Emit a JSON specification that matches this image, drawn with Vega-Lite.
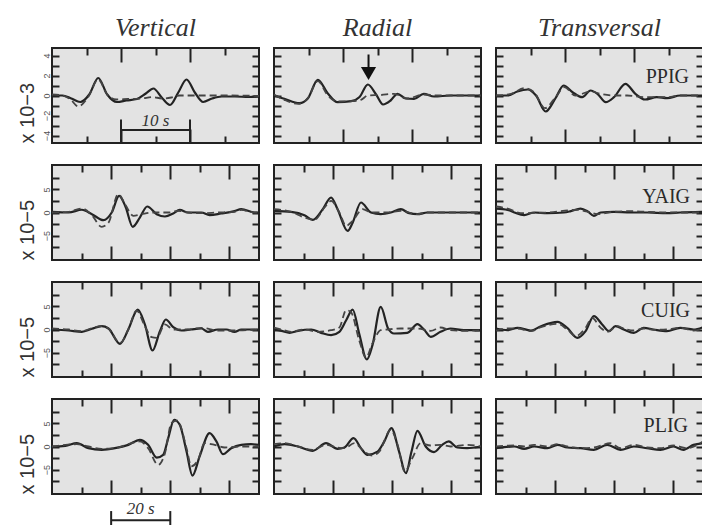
{
"$schema":"https://vega.github.io/schema/vega-lite/v6.json",
"padding":{"left":16,"top":14,"right":0,"bottom":0},
"background":"white",
"columns":3,
"align":"all",
"bounds":"flush",
"spacing":{"row":22,"column":15},
"config":{
 "view":{"fill":"#e3e3e3","stroke":"#222","strokeWidth":2},
 "axis":{"domain":false,"grid":false,"labels":false,"tickColor":"#222","tickWidth":2,"labelFont":"Liberation Sans","labelFontSize":9,"labelColor":"#555","titleFont":"Liberation Sans","titleFontSize":20,"titleFontWeight":"normal","titleColor":"#333","titleAnchor":"start","titlePadding":5},
 "title":{"font":"Liberation Serif","fontStyle":"italic","fontSize":26,"fontWeight":"normal","color":"#333","offset":6}
},
"datasets":{
"PV":[{"s":"o","t":0,"v":0},{"s":"o","t":1.5,"v":0},{"s":"o","t":2.8,"v":-0.3},{"s":"o","t":4.1,"v":-0.65},{"s":"o","t":5.4,"v":0.1},{"s":"o","t":6.7,"v":1.75},{"s":"o","t":8,"v":0.1},{"s":"o","t":9.4,"v":-0.65},{"s":"o","t":10.8,"v":-0.5},{"s":"o","t":12.3,"v":-0.35},{"s":"o","t":13.6,"v":0.2},{"s":"o","t":14.7,"v":0.7},{"s":"o","t":15.9,"v":-0.2},{"s":"o","t":17.1,"v":-0.95},{"s":"o","t":18.3,"v":0.3},{"s":"o","t":19.5,"v":1.6},{"s":"o","t":20.7,"v":0.3},{"s":"o","t":21.9,"v":-0.65},{"s":"o","t":23.2,"v":-0.3},{"s":"o","t":24.6,"v":-0.1},{"s":"o","t":26.5,"v":-0.1},{"s":"o","t":28.5,"v":-0.15},{"s":"o","t":30,"v":-0.1},
{"s":"s","t":0,"v":0.1},{"s":"s","t":1.5,"v":0},{"s":"s","t":2.7,"v":-0.4},{"s":"s","t":3.8,"v":-1.1},{"s":"s","t":5.2,"v":-0.2},{"s":"s","t":6.7,"v":1.6},{"s":"s","t":8,"v":0.1},{"s":"s","t":9.3,"v":-0.4},{"s":"s","t":11,"v":-0.35},{"s":"s","t":13,"v":-0.3},{"s":"s","t":14.5,"v":-0.15},{"s":"s","t":16,"v":-0.3},{"s":"s","t":17.3,"v":-0.2},{"s":"s","t":18.5,"v":0},{"s":"s","t":22,"v":0},{"s":"s","t":26,"v":0},{"s":"s","t":30,"v":-0.05}],
"PR":[{"s":"o","t":0,"v":0},{"s":"o","t":1.5,"v":-0.33},{"s":"o","t":3.7,"v":-0.77},{"s":"o","t":4.9,"v":-0.3},{"s":"o","t":6.35,"v":1.57},{"s":"o","t":7.8,"v":0.2},{"s":"o","t":9.2,"v":-0.67},{"s":"o","t":11.2,"v":-0.57},{"s":"o","t":12.4,"v":-0.15},{"s":"o","t":13.6,"v":1.1},{"s":"o","t":14.8,"v":0.1},{"s":"o","t":15.8,"v":-0.9},{"s":"o","t":16.9,"v":-0.5},{"s":"o","t":17.9,"v":0.17},{"s":"o","t":19.1,"v":-0.3},{"s":"o","t":20.3,"v":-0.33},{"s":"o","t":21.7,"v":0.17},{"s":"o","t":23.2,"v":-0.1},{"s":"o","t":25.6,"v":0},{"s":"o","t":30,"v":0},
{"s":"s","t":0,"v":0.1},{"s":"s","t":1.5,"v":-0.43},{"s":"s","t":3.5,"v":-0.83},{"s":"s","t":4.9,"v":-0.27},{"s":"s","t":6.35,"v":1.43},{"s":"s","t":7.8,"v":0},{"s":"s","t":9.2,"v":-0.6},{"s":"s","t":11.2,"v":-0.57},{"s":"s","t":12.6,"v":-0.43},{"s":"s","t":13.6,"v":0},{"s":"s","t":15.5,"v":0.05},{"s":"s","t":17.4,"v":0.17},{"s":"s","t":19.3,"v":-0.3},{"s":"s","t":21.7,"v":0.1},{"s":"s","t":23.7,"v":0},{"s":"s","t":30,"v":0}],
"PT":[{"s":"o","t":0,"v":0},{"s":"o","t":1.7,"v":0},{"s":"o","t":3.1,"v":0.4},{"s":"o","t":4.6,"v":0.6},{"s":"o","t":5.8,"v":0},{"s":"o","t":7.2,"v":-1.6},{"s":"o","t":8.6,"v":-0.3},{"s":"o","t":9.8,"v":1.0},{"s":"o","t":11.1,"v":0.33},{"s":"o","t":12.5,"v":-0.17},{"s":"o","t":13.7,"v":0.5},{"s":"o","t":14.7,"v":0.17},{"s":"o","t":15.9,"v":-0.67},{"s":"o","t":17.1,"v":-0.17},{"s":"o","t":18.75,"v":1.17},{"s":"o","t":20.2,"v":0.17},{"s":"o","t":21.6,"v":-0.4},{"s":"o","t":23.3,"v":-0.17},{"s":"o","t":24.8,"v":-0.27},{"s":"o","t":26.7,"v":0},{"s":"o","t":30,"v":0},
{"s":"s","t":0,"v":0},{"s":"s","t":2.2,"v":0.17},{"s":"s","t":4.1,"v":0.73},{"s":"s","t":5.5,"v":0.33},{"s":"s","t":7.1,"v":-1.27},{"s":"s","t":8.7,"v":-0.1},{"s":"s","t":9.9,"v":0.83},{"s":"s","t":11.5,"v":0},{"s":"s","t":13.7,"v":0.4},{"s":"s","t":15.1,"v":0.17},{"s":"s","t":17.1,"v":0},{"s":"s","t":19,"v":0},{"s":"s","t":21.4,"v":-0.17},{"s":"s","t":24.8,"v":-0.17},{"s":"s","t":26.7,"v":0},{"s":"s","t":30,"v":0}],
"YV":[{"s":"o","t":0,"v":0.15},{"s":"o","t":5.6,"v":0},{"s":"o","t":10.1,"v":0.6},{"s":"o","t":13.5,"v":-0.36},{"s":"o","t":17.4,"v":-1.66},{"s":"o","t":20.2,"v":0},{"s":"o","t":22.7,"v":3.6},{"s":"o","t":24.9,"v":1.2},{"s":"o","t":27.3,"v":-3.1},{"s":"o","t":29.7,"v":-1.1},{"s":"o","t":32.2,"v":1.3},{"s":"o","t":35.4,"v":-0.36},{"s":"o","t":38.2,"v":-0.87},{"s":"o","t":41,"v":-0.2},{"s":"o","t":43.2,"v":0.58},{"s":"o","t":46,"v":0},{"s":"o","t":50.5,"v":0},{"s":"o","t":53.3,"v":-0.58},{"s":"o","t":57.2,"v":-0.22},{"s":"o","t":61.7,"v":0.3},{"s":"o","t":64,"v":0.72},{"s":"o","t":68.5,"v":0},{"s":"o","t":70,"v":0},
{"s":"s","t":0,"v":0},{"s":"s","t":5.6,"v":0.15},{"s":"s","t":10.1,"v":0.87},{"s":"s","t":13.5,"v":-0.58},{"s":"s","t":16.8,"v":-3.1},{"s":"s","t":19.1,"v":-2.2},{"s":"s","t":22.4,"v":4.0},{"s":"s","t":24.7,"v":1.8},{"s":"s","t":27.5,"v":-0.72},{"s":"s","t":30.3,"v":-0.36},{"s":"s","t":33.7,"v":0},{"s":"s","t":39.3,"v":0},{"s":"s","t":42.6,"v":0.36},{"s":"s","t":46,"v":0},{"s":"s","t":50.5,"v":-0.15},{"s":"s","t":56,"v":0},{"s":"s","t":61.7,"v":0.15},{"s":"s","t":64,"v":0.58},{"s":"s","t":68.5,"v":0},{"s":"s","t":70,"v":0}],
"YR":[{"s":"o","t":0,"v":0.36},{"s":"o","t":5.8,"v":0.15},{"s":"o","t":10.3,"v":-0.58},{"s":"o","t":13.1,"v":-1.6},{"s":"o","t":16.5,"v":0.72},{"s":"o","t":19.3,"v":3.25},{"s":"o","t":21.5,"v":0.72},{"s":"o","t":24.9,"v":-4.0},{"s":"o","t":26.6,"v":-2.2},{"s":"o","t":29.4,"v":2.17},{"s":"o","t":32.8,"v":0},{"s":"o","t":36.1,"v":-0.36},{"s":"o","t":39.5,"v":0},{"s":"o","t":42.9,"v":0.72},{"s":"o","t":45.7,"v":-0.15},{"s":"o","t":48.5,"v":-0.36},{"s":"o","t":51.9,"v":0},{"s":"o","t":60,"v":0},{"s":"o","t":70,"v":0},
{"s":"s","t":0,"v":0.72},{"s":"s","t":5.8,"v":0.15},{"s":"s","t":10.3,"v":-1.1},{"s":"s","t":13.7,"v":-1.6},{"s":"s","t":17.1,"v":1.1},{"s":"s","t":19.3,"v":2.5},{"s":"s","t":22.1,"v":0},{"s":"s","t":24.4,"v":-2.9},{"s":"s","t":26.6,"v":-1.8},{"s":"s","t":30,"v":0.72},{"s":"s","t":32.8,"v":0},{"s":"s","t":38,"v":0},{"s":"s","t":42.9,"v":0.36},{"s":"s","t":48.5,"v":-0.36},{"s":"s","t":51.9,"v":0},{"s":"s","t":60,"v":0},{"s":"s","t":70,"v":0}],
"YT":[{"s":"o","t":0,"v":0.86},{"s":"o","t":3.9,"v":0.58},{"s":"o","t":6.2,"v":0},{"s":"o","t":9.5,"v":-0.58},{"s":"o","t":12.9,"v":0},{"s":"o","t":17.4,"v":-0.14},{"s":"o","t":23,"v":0},{"s":"o","t":25.3,"v":0.29},{"s":"o","t":28.6,"v":0.86},{"s":"o","t":30.9,"v":0.29},{"s":"o","t":33.1,"v":-0.74},{"s":"o","t":35.4,"v":0},{"s":"o","t":39.8,"v":0.14},{"s":"o","t":45.5,"v":0},{"s":"o","t":51.1,"v":0},{"s":"o","t":57.8,"v":-0.14},{"s":"o","t":62.3,"v":0},{"s":"o","t":70,"v":0.14},
{"s":"s","t":0,"v":1.3},{"s":"s","t":3.9,"v":0.86},{"s":"s","t":8.4,"v":-0.14},{"s":"s","t":17.4,"v":0},{"s":"s","t":27.5,"v":0.58},{"s":"s","t":32,"v":0},{"s":"s","t":34.2,"v":-0.36},{"s":"s","t":39.8,"v":0.14},{"s":"s","t":45.5,"v":0.29},{"s":"s","t":57.8,"v":0},{"s":"s","t":70,"v":0}],
"CV":[{"s":"o","t":0,"v":0},{"s":"o","t":5.6,"v":-0.22},{"s":"o","t":10.1,"v":-0.5},{"s":"o","t":13.5,"v":0.15},{"s":"o","t":16.8,"v":0.72},{"s":"o","t":19.1,"v":0.22},{"s":"o","t":23,"v":-3.1},{"s":"o","t":25.8,"v":0},{"s":"o","t":29,"v":4.3},{"s":"o","t":31.4,"v":1.1},{"s":"o","t":34,"v":-4.55},{"s":"o","t":36.5,"v":-0.36},{"s":"o","t":38.5,"v":2.17},{"s":"o","t":41,"v":0.5},{"s":"o","t":43.8,"v":-0.22},{"s":"o","t":47,"v":0},{"s":"o","t":50.5,"v":0.22},{"s":"o","t":52.7,"v":-0.5},{"s":"o","t":56.1,"v":0},{"s":"o","t":59,"v":0},{"s":"o","t":61.7,"v":-0.5},{"s":"o","t":64,"v":0},{"s":"o","t":70,"v":0},
{"s":"s","t":0,"v":0.22},{"s":"s","t":5.6,"v":0},{"s":"s","t":10.1,"v":-0.36},{"s":"s","t":13.5,"v":0.3},{"s":"s","t":16.8,"v":0.72},{"s":"s","t":19.1,"v":0.22},{"s":"s","t":23,"v":-2.9},{"s":"s","t":25.8,"v":0},{"s":"s","t":28.6,"v":4.1},{"s":"s","t":31.4,"v":0.72},{"s":"s","t":33.7,"v":-1.66},{"s":"s","t":35.4,"v":-1.8},{"s":"s","t":38.2,"v":1.1},{"s":"s","t":41,"v":0},{"s":"s","t":46,"v":0},{"s":"s","t":50.5,"v":0.36},{"s":"s","t":56.1,"v":-0.22},{"s":"s","t":61.7,"v":-0.22},{"s":"s","t":70,"v":0}],
"CR":[{"s":"o","t":0,"v":0},{"s":"o","t":2.5,"v":-0.29},{"s":"o","t":5.3,"v":-0.72},{"s":"o","t":8.1,"v":-0.29},{"s":"o","t":12.6,"v":0},{"s":"o","t":15.9,"v":-0.72},{"s":"o","t":19.3,"v":-1.23},{"s":"o","t":22.1,"v":-0.5},{"s":"o","t":24.4,"v":2.0},{"s":"o","t":26.6,"v":4.3},{"s":"o","t":28.8,"v":-0.87},{"s":"o","t":31.4,"v":-6.5},{"s":"o","t":33.3,"v":-3.4},{"s":"o","t":36.1,"v":4.9},{"s":"o","t":38.6,"v":0.22},{"s":"o","t":40.6,"v":-0.87},{"s":"o","t":45.1,"v":-0.72},{"s":"o","t":48.5,"v":1.16},{"s":"o","t":50.7,"v":0},{"s":"o","t":53,"v":-1.6},{"s":"o","t":56.3,"v":-0.5},{"s":"o","t":59.7,"v":0.22},{"s":"o","t":64.2,"v":-0.15},{"s":"o","t":70,"v":-0.15},
{"s":"s","t":0,"v":0.43},{"s":"s","t":2.5,"v":0},{"s":"s","t":5.8,"v":-0.5},{"s":"s","t":10.3,"v":0},{"s":"s","t":14.8,"v":-0.5},{"s":"s","t":19.3,"v":-0.15},{"s":"s","t":22.1,"v":0.43},{"s":"s","t":24.4,"v":4.2},{"s":"s","t":26,"v":3.8},{"s":"s","t":28.8,"v":-2.3},{"s":"s","t":31.1,"v":-6.1},{"s":"s","t":33.3,"v":-3.0},{"s":"s","t":36.1,"v":-0.15},{"s":"s","t":38.4,"v":0},{"s":"s","t":42.9,"v":0.22},{"s":"s","t":48.5,"v":0.22},{"s":"s","t":53,"v":-0.29},{"s":"s","t":56.3,"v":0.43},{"s":"s","t":59.7,"v":-0.15},{"s":"s","t":65.3,"v":-0.29},{"s":"s","t":70,"v":-0.15}],
"CT":[{"s":"o","t":0,"v":0.22},{"s":"o","t":3.9,"v":-0.15},{"s":"o","t":7.3,"v":0.36},{"s":"o","t":11.8,"v":-0.22},{"s":"o","t":15.2,"v":0.72},{"s":"o","t":20.8,"v":1.66},{"s":"o","t":24.1,"v":0.36},{"s":"o","t":27.5,"v":-1.8},{"s":"o","t":30.3,"v":-0.36},{"s":"o","t":33.1,"v":2.9},{"s":"o","t":35.9,"v":1.1},{"s":"o","t":38.2,"v":-0.36},{"s":"o","t":40.4,"v":0.72},{"s":"o","t":43.2,"v":0},{"s":"o","t":46.6,"v":-0.72},{"s":"o","t":49.9,"v":0.36},{"s":"o","t":53.3,"v":0},{"s":"o","t":57.8,"v":-0.36},{"s":"o","t":62.3,"v":0.36},{"s":"o","t":66.8,"v":0},{"s":"o","t":70,"v":0.5},
{"s":"s","t":0,"v":-0.22},{"s":"s","t":3.9,"v":0.22},{"s":"s","t":7.3,"v":0.22},{"s":"s","t":11.8,"v":-0.36},{"s":"s","t":15.2,"v":0.5},{"s":"s","t":20.8,"v":1.23},{"s":"s","t":24.1,"v":0},{"s":"s","t":26.9,"v":-1.45},{"s":"s","t":30.3,"v":0.36},{"s":"s","t":32.5,"v":2.5},{"s":"s","t":35.4,"v":0.36},{"s":"s","t":37.6,"v":-0.5},{"s":"s","t":41,"v":0.72},{"s":"s","t":43.2,"v":0.22},{"s":"s","t":46.6,"v":-0.22},{"s":"s","t":49.9,"v":0.22},{"s":"s","t":53.3,"v":-0.07},{"s":"s","t":57.8,"v":0},{"s":"s","t":62.3,"v":0.36},{"s":"s","t":66.8,"v":-0.22},{"s":"s","t":70,"v":0.22}],
"LV":[{"s":"o","t":0,"v":0},{"s":"o","t":4.5,"v":0.15},{"s":"o","t":8.4,"v":0.72},{"s":"o","t":12.3,"v":-0.36},{"s":"o","t":16.8,"v":-0.72},{"s":"o","t":21.3,"v":-0.36},{"s":"o","t":25.8,"v":0.36},{"s":"o","t":29.7,"v":1.45},{"s":"o","t":32.5,"v":0.36},{"s":"o","t":35.4,"v":-2.4},{"s":"o","t":37.6,"v":-1.8},{"s":"o","t":39.3,"v":1.8},{"s":"o","t":41.3,"v":5.8},{"s":"o","t":43.2,"v":4.7},{"s":"o","t":45.5,"v":-1.1},{"s":"o","t":47.5,"v":-6.3},{"s":"o","t":49.9,"v":-2.2},{"s":"o","t":53.3,"v":2.9},{"s":"o","t":55.6,"v":1.1},{"s":"o","t":57.8,"v":-1.66},{"s":"o","t":60.6,"v":-0.36},{"s":"o","t":64,"v":0.36},{"s":"o","t":67.3,"v":0.5},{"s":"o","t":70,"v":0.36},
{"s":"s","t":0,"v":0},{"s":"s","t":4.5,"v":0.36},{"s":"s","t":8.4,"v":0.5},{"s":"s","t":12.3,"v":0},{"s":"s","t":16.8,"v":-0.5},{"s":"s","t":21.3,"v":-0.36},{"s":"s","t":25.8,"v":0.5},{"s":"s","t":29.7,"v":1.1},{"s":"s","t":32.5,"v":-0.36},{"s":"s","t":35.9,"v":-4.0},{"s":"s","t":38.2,"v":-1.45},{"s":"s","t":40.4,"v":5.1},{"s":"s","t":42.4,"v":5.6},{"s":"s","t":45.5,"v":-0.36},{"s":"s","t":47.1,"v":-4.3},{"s":"s","t":49.4,"v":-2.9},{"s":"s","t":51.6,"v":0.72},{"s":"s","t":55,"v":0.36},{"s":"s","t":58.4,"v":-0.22},{"s":"s","t":64,"v":0},{"s":"s","t":70,"v":0}],
"LR":[{"s":"o","t":0,"v":0},{"s":"o","t":3.6,"v":0.5},{"s":"o","t":8.1,"v":0},{"s":"o","t":13.1,"v":-0.94},{"s":"o","t":17.6,"v":0.72},{"s":"o","t":21.5,"v":-0.5},{"s":"o","t":23.8,"v":-0.22},{"s":"o","t":26.9,"v":1.8},{"s":"o","t":29.4,"v":-0.36},{"s":"o","t":31.6,"v":-1.8},{"s":"o","t":35,"v":-1.1},{"s":"o","t":37.3,"v":1.1},{"s":"o","t":39.7,"v":4.0},{"s":"o","t":42.3,"v":-1.1},{"s":"o","t":44.6,"v":-5.8},{"s":"o","t":46.5,"v":-1.1},{"s":"o","t":48.5,"v":3.4},{"s":"o","t":51.3,"v":0},{"s":"o","t":54.1,"v":-1.2},{"s":"o","t":56.9,"v":0.36},{"s":"o","t":59.1,"v":1.1},{"s":"o","t":62,"v":-0.22},{"s":"o","t":65.3,"v":-0.36},{"s":"o","t":70,"v":0},
{"s":"s","t":0,"v":0.5},{"s":"s","t":3.6,"v":0.72},{"s":"s","t":8.1,"v":0},{"s":"s","t":13.1,"v":-0.72},{"s":"s","t":17.6,"v":0.36},{"s":"s","t":21.5,"v":-0.22},{"s":"s","t":23.8,"v":-0.36},{"s":"s","t":27.2,"v":0.72},{"s":"s","t":30.5,"v":-1.1},{"s":"s","t":33.3,"v":-1.95},{"s":"s","t":35.6,"v":-1.1},{"s":"s","t":39.5,"v":3.6},{"s":"s","t":41.8,"v":0.36},{"s":"s","t":44.2,"v":-5.4},{"s":"s","t":46.8,"v":-2.5},{"s":"s","t":49.6,"v":0.72},{"s":"s","t":53,"v":0.22},{"s":"s","t":56.3,"v":0.36},{"s":"s","t":59.7,"v":0},{"s":"s","t":65.3,"v":0.36},{"s":"s","t":70,"v":0}],
"LT":[{"s":"o","t":0,"v":-0.36},{"s":"o","t":6.2,"v":0},{"s":"o","t":9.5,"v":-0.5},{"s":"o","t":12.9,"v":0},{"s":"o","t":17.4,"v":-0.36},{"s":"o","t":20.8,"v":0.36},{"s":"o","t":24.1,"v":-0.22},{"s":"o","t":28.6,"v":-0.36},{"s":"o","t":33.1,"v":-0.72},{"s":"o","t":37.6,"v":0.36},{"s":"o","t":42.1,"v":-0.72},{"s":"o","t":46.6,"v":0},{"s":"o","t":51.1,"v":-0.36},{"s":"o","t":55.6,"v":-0.72},{"s":"o","t":60,"v":0},{"s":"o","t":63.4,"v":-0.72},{"s":"o","t":66.8,"v":0.36},{"s":"o","t":70,"v":0.72},
{"s":"s","t":0,"v":0},{"s":"s","t":6.2,"v":0.22},{"s":"s","t":9.5,"v":0},{"s":"s","t":12.9,"v":0.36},{"s":"s","t":17.4,"v":0},{"s":"s","t":20.8,"v":0.5},{"s":"s","t":24.1,"v":0},{"s":"s","t":28.6,"v":-0.36},{"s":"s","t":33.1,"v":-0.22},{"s":"s","t":38.7,"v":0.72},{"s":"s","t":42.1,"v":-0.36},{"s":"s","t":46.6,"v":0.36},{"s":"s","t":51.1,"v":-0.22},{"s":"s","t":55.6,"v":-0.36},{"s":"s","t":60,"v":0.22},{"s":"s","t":64.6,"v":-0.36},{"s":"s","t":70,"v":1.1}]
},
"concat":[
{"width":207,"height":95,"title":{"text":"Vertical"},"data":{"name":"PV"},"resolve":{"axis":{"x":"independent","y":"independent"}},
 "layer":[
  {"transform":[{"filter":"datum.s==='o'"}],"mark":{"type":"line","interpolate":"monotone","stroke":"#232323","strokeWidth":2.2},
   "encoding":{"x":{"field":"t","type":"quantitative","scale":{"domain":[0,30],"nice":false},"axis":{"orient":"bottom","values":[5,10,15,20,25],"tickSize":{"condition":{"test":"datum.value % 10 === 0","value":-14},"value":-7},"title":null}},
    "y":{"field":"v","type":"quantitative","scale":{"domain":[-4.75,4.75],"nice":false},"axis":{"orient":"left","values":[-4,-3,-2,-1,0,1,2,3,4],"tickSize":-7,"labels":true,"labelExpr":"datum.value % 2 === 0 ? datum.label : ''","labelAngle":-90,"labelPadding":8,"title":"x 10−3"}}}},
  {"transform":[{"filter":"datum.s==='s'"}],"mark":{"type":"line","interpolate":"monotone","stroke":"#444","strokeWidth":1.8,"strokeDash":[7,4]},
   "encoding":{"x":{"field":"t","type":"quantitative","axis":{"orient":"top","values":[5,10,15,20,25],"tickSize":{"condition":{"test":"datum.value % 10 === 0","value":-14},"value":-7},"title":null}},
    "y":{"field":"v","type":"quantitative","axis":{"orient":"right","values":[-4,-3,-2,-1,0,1,2,3,4],"tickSize":-7,"title":null}}}},
  {"data":{"values":[{}]},"mark":{"type":"rule","stroke":"#222","strokeWidth":2},"encoding":{"x":{"datum":10,"type":"quantitative","axis":null},"x2":{"datum":20},"y":{"datum":-3.45,"type":"quantitative","axis":null}}},
  {"data":{"values":[{}]},"mark":{"type":"rule","stroke":"#222","strokeWidth":2},"encoding":{"x":{"datum":10,"type":"quantitative","axis":null},"y":{"datum":-2.4,"type":"quantitative","axis":null},"y2":{"datum":-4.75}}},
  {"data":{"values":[{}]},"mark":{"type":"rule","stroke":"#222","strokeWidth":2},"encoding":{"x":{"datum":20,"type":"quantitative","axis":null},"y":{"datum":-2.4,"type":"quantitative","axis":null},"y2":{"datum":-4.75}}},
  {"data":{"values":[{"l":"10 s"}]},"mark":{"type":"text","font":"Liberation Serif","fontStyle":"italic","fontSize":17,"color":"#333","baseline":"alphabetic"},"encoding":{"x":{"datum":15,"type":"quantitative","axis":null},"y":{"datum":-3.0,"type":"quantitative","axis":null},"text":{"field":"l"}}}
 ]},
{"width":207,"height":95,"title":{"text":"Radial"},"data":{"name":"PR"},"resolve":{"axis":{"x":"independent","y":"independent"}},
 "layer":[
  {"transform":[{"filter":"datum.s==='o'"}],"mark":{"type":"line","interpolate":"monotone","stroke":"#232323","strokeWidth":2.2},
   "encoding":{"x":{"field":"t","type":"quantitative","scale":{"domain":[0,30],"nice":false},"axis":{"orient":"bottom","values":[5,10,15,20,25],"tickSize":{"condition":{"test":"datum.value % 10 === 0","value":-14},"value":-7},"title":null}},
    "y":{"field":"v","type":"quantitative","scale":{"domain":[-4.75,4.75],"nice":false},"axis":{"orient":"left","values":[-4,-3,-2,-1,0,1,2,3,4],"tickSize":-7,"title":null}}}},
  {"transform":[{"filter":"datum.s==='s'"}],"mark":{"type":"line","interpolate":"monotone","stroke":"#444","strokeWidth":1.8,"strokeDash":[7,4]},
   "encoding":{"x":{"field":"t","type":"quantitative","axis":{"orient":"top","values":[5,10,15,20,25],"tickSize":{"condition":{"test":"datum.value % 10 === 0","value":-14},"value":-7},"title":null}},
    "y":{"field":"v","type":"quantitative","axis":{"orient":"right","values":[-4,-3,-2,-1,0,1,2,3,4],"tickSize":-7,"title":null}}}},
  {"data":{"values":[{}]},"mark":{"type":"rule","stroke":"#111","strokeWidth":2},"encoding":{"x":{"datum":13.7,"type":"quantitative","axis":null},"y":{"datum":4.1,"type":"quantitative","axis":null},"y2":{"datum":2.8}}},
  {"data":{"values":[{}]},"mark":{"type":"point","shape":"triangle-down","filled":true,"color":"#111","opacity":1,"size":230},"encoding":{"x":{"datum":13.7,"type":"quantitative","axis":null},"y":{"datum":2.2,"type":"quantitative","axis":null}}}
 ]},
{"width":207,"height":95,"title":{"text":"Transversal"},"data":{"name":"PT"},"resolve":{"axis":{"x":"independent","y":"independent"}},
 "layer":[
  {"transform":[{"filter":"datum.s==='o'"}],"mark":{"type":"line","interpolate":"monotone","stroke":"#232323","strokeWidth":2.2},
   "encoding":{"x":{"field":"t","type":"quantitative","scale":{"domain":[0,30],"nice":false},"axis":{"orient":"bottom","values":[5,10,15,20,25],"tickSize":{"condition":{"test":"datum.value % 10 === 0","value":-14},"value":-7},"title":null}},
    "y":{"field":"v","type":"quantitative","scale":{"domain":[-4.75,4.75],"nice":false},"axis":{"orient":"left","values":[-4,-3,-2,-1,0,1,2,3,4],"tickSize":-7,"title":null}}}},
  {"transform":[{"filter":"datum.s==='s'"}],"mark":{"type":"line","interpolate":"monotone","stroke":"#444","strokeWidth":1.8,"strokeDash":[7,4]},
   "encoding":{"x":{"field":"t","type":"quantitative","axis":{"orient":"top","values":[5,10,15,20,25],"tickSize":{"condition":{"test":"datum.value % 10 === 0","value":-14},"value":-7},"title":null}},
    "y":{"field":"v","type":"quantitative","axis":{"orient":"right","values":[-4,-3,-2,-1,0,1,2,3,4],"tickSize":-7,"title":null}}}},
  {"data":{"values":[{"n":"PPIG"}]},"mark":{"type":"text","font":"Liberation Serif","fontSize":20,"color":"#2a2a2a","align":"right","baseline":"middle","dx":-14},"encoding":{"x":{"datum":30,"type":"quantitative","axis":null},"y":{"datum":1.85,"type":"quantitative","axis":null},"text":{"field":"n"}}}
 ]},
{"width":207,"height":95,"data":{"name":"YV"},"resolve":{"axis":{"x":"independent","y":"independent"}},
 "layer":[
  {"transform":[{"filter":"datum.s==='o'"}],"mark":{"type":"line","interpolate":"monotone","stroke":"#232323","strokeWidth":2.2},
   "encoding":{"x":{"field":"t","type":"quantitative","scale":{"domain":[0,70],"nice":false},"axis":{"orient":"bottom","values":[10,20,30,40,50,60],"tickSize":{"condition":{"test":"datum.value % 20 === 0","value":-14},"value":-7},"title":null}},
    "y":{"field":"v","type":"quantitative","scale":{"domain":[-10.3,10.3],"nice":false},"axis":{"orient":"left","values":[-7.5,-5,-2.5,0,2.5,5,7.5],"tickSize":-7,"labels":true,"labelExpr":"datum.value % 5 === 0 ? datum.label : ''","labelAngle":-90,"labelPadding":8,"title":"x 10−5"}}}},
  {"transform":[{"filter":"datum.s==='s'"}],"mark":{"type":"line","interpolate":"monotone","stroke":"#444","strokeWidth":1.8,"strokeDash":[7,4]},
   "encoding":{"x":{"field":"t","type":"quantitative","axis":{"orient":"top","values":[10,20,30,40,50,60],"tickSize":{"condition":{"test":"datum.value % 20 === 0","value":-14},"value":-7},"title":null}},
    "y":{"field":"v","type":"quantitative","axis":{"orient":"right","values":[-7.5,-5,-2.5,0,2.5,5,7.5],"tickSize":-7,"title":null}}}}
 ]},
{"width":207,"height":95,"data":{"name":"YR"},"resolve":{"axis":{"x":"independent","y":"independent"}},
 "layer":[
  {"transform":[{"filter":"datum.s==='o'"}],"mark":{"type":"line","interpolate":"monotone","stroke":"#232323","strokeWidth":2.2},
   "encoding":{"x":{"field":"t","type":"quantitative","scale":{"domain":[0,70],"nice":false},"axis":{"orient":"bottom","values":[10,20,30,40,50,60],"tickSize":{"condition":{"test":"datum.value % 20 === 0","value":-14},"value":-7},"title":null}},
    "y":{"field":"v","type":"quantitative","scale":{"domain":[-10.3,10.3],"nice":false},"axis":{"orient":"left","values":[-7.5,-5,-2.5,0,2.5,5,7.5],"tickSize":-7,"title":null}}}},
  {"transform":[{"filter":"datum.s==='s'"}],"mark":{"type":"line","interpolate":"monotone","stroke":"#444","strokeWidth":1.8,"strokeDash":[7,4]},
   "encoding":{"x":{"field":"t","type":"quantitative","axis":{"orient":"top","values":[10,20,30,40,50,60],"tickSize":{"condition":{"test":"datum.value % 20 === 0","value":-14},"value":-7},"title":null}},
    "y":{"field":"v","type":"quantitative","axis":{"orient":"right","values":[-7.5,-5,-2.5,0,2.5,5,7.5],"tickSize":-7,"title":null}}}}
 ]},
{"width":207,"height":95,"data":{"name":"YT"},"resolve":{"axis":{"x":"independent","y":"independent"}},
 "layer":[
  {"transform":[{"filter":"datum.s==='o'"}],"mark":{"type":"line","interpolate":"monotone","stroke":"#232323","strokeWidth":2.2},
   "encoding":{"x":{"field":"t","type":"quantitative","scale":{"domain":[0,70],"nice":false},"axis":{"orient":"bottom","values":[10,20,30,40,50,60],"tickSize":{"condition":{"test":"datum.value % 20 === 0","value":-14},"value":-7},"title":null}},
    "y":{"field":"v","type":"quantitative","scale":{"domain":[-10.3,10.3],"nice":false},"axis":{"orient":"left","values":[-7.5,-5,-2.5,0,2.5,5,7.5],"tickSize":-7,"title":null}}}},
  {"transform":[{"filter":"datum.s==='s'"}],"mark":{"type":"line","interpolate":"monotone","stroke":"#444","strokeWidth":1.8,"strokeDash":[7,4]},
   "encoding":{"x":{"field":"t","type":"quantitative","axis":{"orient":"top","values":[10,20,30,40,50,60],"tickSize":{"condition":{"test":"datum.value % 20 === 0","value":-14},"value":-7},"title":null}},
    "y":{"field":"v","type":"quantitative","axis":{"orient":"right","values":[-7.5,-5,-2.5,0,2.5,5,7.5],"tickSize":-7,"title":null}}}},
  {"data":{"values":[{"n":"YAIG"}]},"mark":{"type":"text","font":"Liberation Serif","fontSize":20,"color":"#2a2a2a","align":"right","baseline":"middle","dx":-13},"encoding":{"x":{"datum":70,"type":"quantitative","axis":null},"y":{"datum":3.4,"type":"quantitative","axis":null},"text":{"field":"n"}}}
 ]},
{"width":207,"height":95,"data":{"name":"CV"},"resolve":{"axis":{"x":"independent","y":"independent"}},
 "layer":[
  {"transform":[{"filter":"datum.s==='o'"}],"mark":{"type":"line","interpolate":"monotone","stroke":"#232323","strokeWidth":2.2},
   "encoding":{"x":{"field":"t","type":"quantitative","scale":{"domain":[0,70],"nice":false},"axis":{"orient":"bottom","values":[10,20,30,40,50,60],"tickSize":{"condition":{"test":"datum.value % 20 === 0","value":-14},"value":-7},"title":null}},
    "y":{"field":"v","type":"quantitative","scale":{"domain":[-10.3,10.3],"nice":false},"axis":{"orient":"left","values":[-7.5,-5,-2.5,0,2.5,5,7.5],"tickSize":-7,"labels":true,"labelExpr":"datum.value % 5 === 0 ? datum.label : ''","labelAngle":-90,"labelPadding":8,"title":"x 10−5"}}}},
  {"transform":[{"filter":"datum.s==='s'"}],"mark":{"type":"line","interpolate":"monotone","stroke":"#444","strokeWidth":1.8,"strokeDash":[7,4]},
   "encoding":{"x":{"field":"t","type":"quantitative","axis":{"orient":"top","values":[10,20,30,40,50,60],"tickSize":{"condition":{"test":"datum.value % 20 === 0","value":-14},"value":-7},"title":null}},
    "y":{"field":"v","type":"quantitative","axis":{"orient":"right","values":[-7.5,-5,-2.5,0,2.5,5,7.5],"tickSize":-7,"title":null}}}}
 ]},
{"width":207,"height":95,"data":{"name":"CR"},"resolve":{"axis":{"x":"independent","y":"independent"}},
 "layer":[
  {"transform":[{"filter":"datum.s==='o'"}],"mark":{"type":"line","interpolate":"monotone","stroke":"#232323","strokeWidth":2.2},
   "encoding":{"x":{"field":"t","type":"quantitative","scale":{"domain":[0,70],"nice":false},"axis":{"orient":"bottom","values":[10,20,30,40,50,60],"tickSize":{"condition":{"test":"datum.value % 20 === 0","value":-14},"value":-7},"title":null}},
    "y":{"field":"v","type":"quantitative","scale":{"domain":[-10.3,10.3],"nice":false},"axis":{"orient":"left","values":[-7.5,-5,-2.5,0,2.5,5,7.5],"tickSize":-7,"title":null}}}},
  {"transform":[{"filter":"datum.s==='s'"}],"mark":{"type":"line","interpolate":"monotone","stroke":"#444","strokeWidth":1.8,"strokeDash":[7,4]},
   "encoding":{"x":{"field":"t","type":"quantitative","axis":{"orient":"top","values":[10,20,30,40,50,60],"tickSize":{"condition":{"test":"datum.value % 20 === 0","value":-14},"value":-7},"title":null}},
    "y":{"field":"v","type":"quantitative","axis":{"orient":"right","values":[-7.5,-5,-2.5,0,2.5,5,7.5],"tickSize":-7,"title":null}}}}
 ]},
{"width":207,"height":95,"data":{"name":"CT"},"resolve":{"axis":{"x":"independent","y":"independent"}},
 "layer":[
  {"transform":[{"filter":"datum.s==='o'"}],"mark":{"type":"line","interpolate":"monotone","stroke":"#232323","strokeWidth":2.2},
   "encoding":{"x":{"field":"t","type":"quantitative","scale":{"domain":[0,70],"nice":false},"axis":{"orient":"bottom","values":[10,20,30,40,50,60],"tickSize":{"condition":{"test":"datum.value % 20 === 0","value":-14},"value":-7},"title":null}},
    "y":{"field":"v","type":"quantitative","scale":{"domain":[-10.3,10.3],"nice":false},"axis":{"orient":"left","values":[-7.5,-5,-2.5,0,2.5,5,7.5],"tickSize":-7,"title":null}}}},
  {"transform":[{"filter":"datum.s==='s'"}],"mark":{"type":"line","interpolate":"monotone","stroke":"#444","strokeWidth":1.8,"strokeDash":[7,4]},
   "encoding":{"x":{"field":"t","type":"quantitative","axis":{"orient":"top","values":[10,20,30,40,50,60],"tickSize":{"condition":{"test":"datum.value % 20 === 0","value":-14},"value":-7},"title":null}},
    "y":{"field":"v","type":"quantitative","axis":{"orient":"right","values":[-7.5,-5,-2.5,0,2.5,5,7.5],"tickSize":-7,"title":null}}}},
  {"data":{"values":[{"n":"CUIG"}]},"mark":{"type":"text","font":"Liberation Serif","fontSize":20,"color":"#2a2a2a","align":"right","baseline":"middle","dx":-13},"encoding":{"x":{"datum":70,"type":"quantitative","axis":null},"y":{"datum":4.0,"type":"quantitative","axis":null},"text":{"field":"n"}}}
 ]},
{"width":207,"height":95,"data":{"name":"LV"},"resolve":{"axis":{"x":"independent","y":"independent"}},
 "layer":[
  {"transform":[{"filter":"datum.s==='o'"}],"mark":{"type":"line","interpolate":"monotone","stroke":"#232323","strokeWidth":2.2},
   "encoding":{"x":{"field":"t","type":"quantitative","scale":{"domain":[0,70],"nice":false},"axis":{"orient":"bottom","values":[10,20,30,40,50,60],"tickSize":{"condition":{"test":"datum.value % 20 === 0","value":-14},"value":-7},"title":null}},
    "y":{"field":"v","type":"quantitative","scale":{"domain":[-10.3,10.3],"nice":false},"axis":{"orient":"left","values":[-7.5,-5,-2.5,0,2.5,5,7.5],"tickSize":-7,"labels":true,"labelExpr":"datum.value % 5 === 0 ? datum.label : ''","labelAngle":-90,"labelPadding":8,"title":"x 10−5"}}}},
  {"transform":[{"filter":"datum.s==='s'"}],"mark":{"type":"line","interpolate":"monotone","stroke":"#444","strokeWidth":1.8,"strokeDash":[7,4]},
   "encoding":{"x":{"field":"t","type":"quantitative","axis":{"orient":"top","values":[10,20,30,40,50,60],"tickSize":{"condition":{"test":"datum.value % 20 === 0","value":-14},"value":-7},"title":null}},
    "y":{"field":"v","type":"quantitative","axis":{"orient":"right","values":[-7.5,-5,-2.5,0,2.5,5,7.5],"tickSize":-7,"title":null}}}},
  {"data":{"values":[{}]},"mark":{"type":"rule","stroke":"#222","strokeWidth":2},"encoding":{"x":{"datum":20,"type":"quantitative","axis":null},"x2":{"datum":40},"y":{"datum":-16.0,"type":"quantitative","axis":null}}},
  {"data":{"values":[{}]},"mark":{"type":"rule","stroke":"#222","strokeWidth":2},"encoding":{"x":{"datum":20,"type":"quantitative","axis":null},"y":{"datum":-14,"type":"quantitative","axis":null},"y2":{"datum":-17.1}}},
  {"data":{"values":[{}]},"mark":{"type":"rule","stroke":"#222","strokeWidth":2},"encoding":{"x":{"datum":40,"type":"quantitative","axis":null},"y":{"datum":-14,"type":"quantitative","axis":null},"y2":{"datum":-17.1}}},
  {"data":{"values":[{"l":"20 s"}]},"mark":{"type":"text","font":"Liberation Serif","fontStyle":"italic","fontSize":17,"color":"#333","baseline":"alphabetic"},"encoding":{"x":{"datum":30,"type":"quantitative","axis":null},"y":{"datum":-14.6,"type":"quantitative","axis":null},"text":{"field":"l"}}}
 ]},
{"width":207,"height":95,"data":{"name":"LR"},"resolve":{"axis":{"x":"independent","y":"independent"}},
 "layer":[
  {"transform":[{"filter":"datum.s==='o'"}],"mark":{"type":"line","interpolate":"monotone","stroke":"#232323","strokeWidth":2.2},
   "encoding":{"x":{"field":"t","type":"quantitative","scale":{"domain":[0,70],"nice":false},"axis":{"orient":"bottom","values":[10,20,30,40,50,60],"tickSize":{"condition":{"test":"datum.value % 20 === 0","value":-14},"value":-7},"title":null}},
    "y":{"field":"v","type":"quantitative","scale":{"domain":[-10.3,10.3],"nice":false},"axis":{"orient":"left","values":[-7.5,-5,-2.5,0,2.5,5,7.5],"tickSize":-7,"title":null}}}},
  {"transform":[{"filter":"datum.s==='s'"}],"mark":{"type":"line","interpolate":"monotone","stroke":"#444","strokeWidth":1.8,"strokeDash":[7,4]},
   "encoding":{"x":{"field":"t","type":"quantitative","axis":{"orient":"top","values":[10,20,30,40,50,60],"tickSize":{"condition":{"test":"datum.value % 20 === 0","value":-14},"value":-7},"title":null}},
    "y":{"field":"v","type":"quantitative","axis":{"orient":"right","values":[-7.5,-5,-2.5,0,2.5,5,7.5],"tickSize":-7,"title":null}}}}
 ]},
{"width":207,"height":95,"data":{"name":"LT"},"resolve":{"axis":{"x":"independent","y":"independent"}},
 "layer":[
  {"transform":[{"filter":"datum.s==='o'"}],"mark":{"type":"line","interpolate":"monotone","stroke":"#232323","strokeWidth":2.2},
   "encoding":{"x":{"field":"t","type":"quantitative","scale":{"domain":[0,70],"nice":false},"axis":{"orient":"bottom","values":[10,20,30,40,50,60],"tickSize":{"condition":{"test":"datum.value % 20 === 0","value":-14},"value":-7},"title":null}},
    "y":{"field":"v","type":"quantitative","scale":{"domain":[-10.3,10.3],"nice":false},"axis":{"orient":"left","values":[-7.5,-5,-2.5,0,2.5,5,7.5],"tickSize":-7,"title":null}}}},
  {"transform":[{"filter":"datum.s==='s'"}],"mark":{"type":"line","interpolate":"monotone","stroke":"#444","strokeWidth":1.8,"strokeDash":[7,4]},
   "encoding":{"x":{"field":"t","type":"quantitative","axis":{"orient":"top","values":[10,20,30,40,50,60],"tickSize":{"condition":{"test":"datum.value % 20 === 0","value":-14},"value":-7},"title":null}},
    "y":{"field":"v","type":"quantitative","axis":{"orient":"right","values":[-7.5,-5,-2.5,0,2.5,5,7.5],"tickSize":-7,"title":null}}}},
  {"data":{"values":[{"n":"PLIG"}]},"mark":{"type":"text","font":"Liberation Serif","fontSize":20,"color":"#2a2a2a","align":"right","baseline":"middle","dx":-15},"encoding":{"x":{"datum":70,"type":"quantitative","axis":null},"y":{"datum":4.5,"type":"quantitative","axis":null},"text":{"field":"n"}}}
 ]}
]
}
